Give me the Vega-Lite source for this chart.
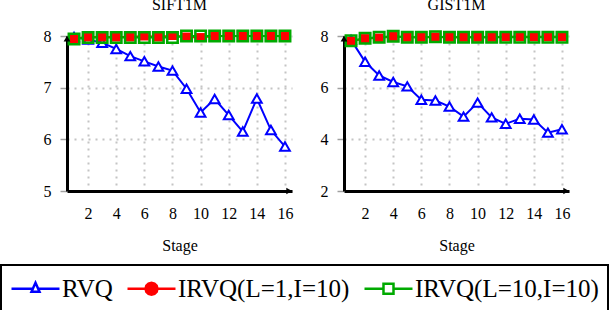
{
  "$schema": "https://vega.github.io/schema/vega-lite/v6.json",
  "padding": {"left": 0, "top": -4, "right": 0, "bottom": 0},
  "background": "white",
  "data": {"values": [
    {"dataset":"SIFT1M","series":"RVQ","stage":1,"value":7.98},
    {"dataset":"SIFT1M","series":"RVQ","stage":2,"value":7.93},
    {"dataset":"SIFT1M","series":"RVQ","stage":3,"value":7.87},
    {"dataset":"SIFT1M","series":"RVQ","stage":4,"value":7.75},
    {"dataset":"SIFT1M","series":"RVQ","stage":5,"value":7.61},
    {"dataset":"SIFT1M","series":"RVQ","stage":6,"value":7.51},
    {"dataset":"SIFT1M","series":"RVQ","stage":7,"value":7.41},
    {"dataset":"SIFT1M","series":"RVQ","stage":8,"value":7.33},
    {"dataset":"SIFT1M","series":"RVQ","stage":9,"value":6.98},
    {"dataset":"SIFT1M","series":"RVQ","stage":10,"value":6.52},
    {"dataset":"SIFT1M","series":"RVQ","stage":11,"value":6.78},
    {"dataset":"SIFT1M","series":"RVQ","stage":12,"value":6.47},
    {"dataset":"SIFT1M","series":"RVQ","stage":13,"value":6.15},
    {"dataset":"SIFT1M","series":"RVQ","stage":14,"value":6.79},
    {"dataset":"SIFT1M","series":"RVQ","stage":15,"value":6.18},
    {"dataset":"SIFT1M","series":"RVQ","stage":16,"value":5.86},
    {"dataset":"SIFT1M","series":"IRVQ(L=1,I=10)","stage":1,"value":7.95},
    {"dataset":"SIFT1M","series":"IRVQ(L=1,I=10)","stage":2,"value":7.98},
    {"dataset":"SIFT1M","series":"IRVQ(L=1,I=10)","stage":3,"value":7.98},
    {"dataset":"SIFT1M","series":"IRVQ(L=1,I=10)","stage":4,"value":7.98},
    {"dataset":"SIFT1M","series":"IRVQ(L=1,I=10)","stage":5,"value":7.98},
    {"dataset":"SIFT1M","series":"IRVQ(L=1,I=10)","stage":6,"value":8.0},
    {"dataset":"SIFT1M","series":"IRVQ(L=1,I=10)","stage":7,"value":7.98},
    {"dataset":"SIFT1M","series":"IRVQ(L=1,I=10)","stage":8,"value":8.01},
    {"dataset":"SIFT1M","series":"IRVQ(L=1,I=10)","stage":9,"value":7.98},
    {"dataset":"SIFT1M","series":"IRVQ(L=1,I=10)","stage":10,"value":7.97},
    {"dataset":"SIFT1M","series":"IRVQ(L=1,I=10)","stage":11,"value":8.0},
    {"dataset":"SIFT1M","series":"IRVQ(L=1,I=10)","stage":12,"value":8.0},
    {"dataset":"SIFT1M","series":"IRVQ(L=1,I=10)","stage":13,"value":8.0},
    {"dataset":"SIFT1M","series":"IRVQ(L=1,I=10)","stage":14,"value":8.0},
    {"dataset":"SIFT1M","series":"IRVQ(L=1,I=10)","stage":15,"value":8.0},
    {"dataset":"SIFT1M","series":"IRVQ(L=1,I=10)","stage":16,"value":8.0},
    {"dataset":"SIFT1M","series":"IRVQ(L=10,I=10)","stage":1,"value":7.94},
    {"dataset":"SIFT1M","series":"IRVQ(L=10,I=10)","stage":2,"value":7.97},
    {"dataset":"SIFT1M","series":"IRVQ(L=10,I=10)","stage":3,"value":7.97},
    {"dataset":"SIFT1M","series":"IRVQ(L=10,I=10)","stage":4,"value":7.97},
    {"dataset":"SIFT1M","series":"IRVQ(L=10,I=10)","stage":5,"value":7.97},
    {"dataset":"SIFT1M","series":"IRVQ(L=10,I=10)","stage":6,"value":7.97},
    {"dataset":"SIFT1M","series":"IRVQ(L=10,I=10)","stage":7,"value":7.97},
    {"dataset":"SIFT1M","series":"IRVQ(L=10,I=10)","stage":8,"value":7.97},
    {"dataset":"SIFT1M","series":"IRVQ(L=10,I=10)","stage":9,"value":8.0},
    {"dataset":"SIFT1M","series":"IRVQ(L=10,I=10)","stage":10,"value":8.0},
    {"dataset":"SIFT1M","series":"IRVQ(L=10,I=10)","stage":11,"value":8.0},
    {"dataset":"SIFT1M","series":"IRVQ(L=10,I=10)","stage":12,"value":8.0},
    {"dataset":"SIFT1M","series":"IRVQ(L=10,I=10)","stage":13,"value":8.0},
    {"dataset":"SIFT1M","series":"IRVQ(L=10,I=10)","stage":14,"value":8.0},
    {"dataset":"SIFT1M","series":"IRVQ(L=10,I=10)","stage":15,"value":8.0},
    {"dataset":"SIFT1M","series":"IRVQ(L=10,I=10)","stage":16,"value":8.0},
    {"dataset":"GIST1M","series":"RVQ","stage":1,"value":7.85},
    {"dataset":"GIST1M","series":"RVQ","stage":2,"value":7.0},
    {"dataset":"GIST1M","series":"RVQ","stage":3,"value":6.47},
    {"dataset":"GIST1M","series":"RVQ","stage":4,"value":6.22},
    {"dataset":"GIST1M","series":"RVQ","stage":5,"value":6.05},
    {"dataset":"GIST1M","series":"RVQ","stage":6,"value":5.53},
    {"dataset":"GIST1M","series":"RVQ","stage":7,"value":5.5},
    {"dataset":"GIST1M","series":"RVQ","stage":8,"value":5.27},
    {"dataset":"GIST1M","series":"RVQ","stage":9,"value":4.88},
    {"dataset":"GIST1M","series":"RVQ","stage":10,"value":5.42},
    {"dataset":"GIST1M","series":"RVQ","stage":11,"value":4.85},
    {"dataset":"GIST1M","series":"RVQ","stage":12,"value":4.6},
    {"dataset":"GIST1M","series":"RVQ","stage":13,"value":4.8},
    {"dataset":"GIST1M","series":"RVQ","stage":14,"value":4.77},
    {"dataset":"GIST1M","series":"RVQ","stage":15,"value":4.26},
    {"dataset":"GIST1M","series":"RVQ","stage":16,"value":4.39},
    {"dataset":"GIST1M","series":"IRVQ(L=1,I=10)","stage":1,"value":7.8},
    {"dataset":"GIST1M","series":"IRVQ(L=1,I=10)","stage":2,"value":7.9},
    {"dataset":"GIST1M","series":"IRVQ(L=1,I=10)","stage":3,"value":7.92},
    {"dataset":"GIST1M","series":"IRVQ(L=1,I=10)","stage":4,"value":7.98},
    {"dataset":"GIST1M","series":"IRVQ(L=1,I=10)","stage":5,"value":7.95},
    {"dataset":"GIST1M","series":"IRVQ(L=1,I=10)","stage":6,"value":7.95},
    {"dataset":"GIST1M","series":"IRVQ(L=1,I=10)","stage":7,"value":7.96},
    {"dataset":"GIST1M","series":"IRVQ(L=1,I=10)","stage":8,"value":7.95},
    {"dataset":"GIST1M","series":"IRVQ(L=1,I=10)","stage":9,"value":7.95},
    {"dataset":"GIST1M","series":"IRVQ(L=1,I=10)","stage":10,"value":7.95},
    {"dataset":"GIST1M","series":"IRVQ(L=1,I=10)","stage":11,"value":7.95},
    {"dataset":"GIST1M","series":"IRVQ(L=1,I=10)","stage":12,"value":7.97},
    {"dataset":"GIST1M","series":"IRVQ(L=1,I=10)","stage":13,"value":7.97},
    {"dataset":"GIST1M","series":"IRVQ(L=1,I=10)","stage":14,"value":7.97},
    {"dataset":"GIST1M","series":"IRVQ(L=1,I=10)","stage":15,"value":7.97},
    {"dataset":"GIST1M","series":"IRVQ(L=1,I=10)","stage":16,"value":7.97},
    {"dataset":"GIST1M","series":"IRVQ(L=10,I=10)","stage":1,"value":7.82},
    {"dataset":"GIST1M","series":"IRVQ(L=10,I=10)","stage":2,"value":7.91},
    {"dataset":"GIST1M","series":"IRVQ(L=10,I=10)","stage":3,"value":7.95},
    {"dataset":"GIST1M","series":"IRVQ(L=10,I=10)","stage":4,"value":7.99},
    {"dataset":"GIST1M","series":"IRVQ(L=10,I=10)","stage":5,"value":7.95},
    {"dataset":"GIST1M","series":"IRVQ(L=10,I=10)","stage":6,"value":7.95},
    {"dataset":"GIST1M","series":"IRVQ(L=10,I=10)","stage":7,"value":7.97},
    {"dataset":"GIST1M","series":"IRVQ(L=10,I=10)","stage":8,"value":7.95},
    {"dataset":"GIST1M","series":"IRVQ(L=10,I=10)","stage":9,"value":7.95},
    {"dataset":"GIST1M","series":"IRVQ(L=10,I=10)","stage":10,"value":7.95},
    {"dataset":"GIST1M","series":"IRVQ(L=10,I=10)","stage":11,"value":7.95},
    {"dataset":"GIST1M","series":"IRVQ(L=10,I=10)","stage":12,"value":7.95},
    {"dataset":"GIST1M","series":"IRVQ(L=10,I=10)","stage":13,"value":7.95},
    {"dataset":"GIST1M","series":"IRVQ(L=10,I=10)","stage":14,"value":7.95},
    {"dataset":"GIST1M","series":"IRVQ(L=10,I=10)","stage":15,"value":7.95},
    {"dataset":"GIST1M","series":"IRVQ(L=10,I=10)","stage":16,"value":7.95}
  ]},
  "spacing": 24,
  "hconcat": [
    {
      "width": 225, "height": 155,
      "title": {"text": "SIFT1M"},
      "transform": [{"filter": "datum.dataset === 'SIFT1M'"}],
      "encoding": {
        "x": {"field": "stage", "type": "quantitative", "scale": {"domain": [0.5, 16.5], "nice": false},
              "axis": {"values": [2,4,6,8,10,12,14,16], "title": "Stage", "labelOverlap": false, "labelSeparation": 0}},
        "y": {"field": "value", "type": "quantitative", "scale": {"domain": [5, 8], "nice": false, "zero": false},
              "axis": {"values": [5,6,7,8], "title": null}}
      },
      "layer": [
        {
          "mark": {"type": "line", "strokeWidth": 2},
          "encoding": {
            "color": {"field": "series", "type": "nominal",
                      "scale": {"domain": ["RVQ", "IRVQ(L=1,I=10)", "IRVQ(L=10,I=10)"], "range": ["#0000ff", "#ff0000", "#00aa00"]},
                      "legend": {
                        "orient": "none", "legendX": -66, "legendY": 229,
                        "encode": {
                          "symbols": {"update": {
                            "shape": {"signal": "datum.value === 'RVQ' ? 'M-1,0H0.64M1.05,0H2.692M0.846,-0.46L1.154,0.23L0.538,0.23Z' : datum.value === 'IRVQ(L=1,I=10)' ? 'M-1,0H2.692M1.306,0L1.244,0.23L1.076,0.398L0.846,0.46L0.616,0.398L0.448,0.23L0.386,0L0.448,-0.23L0.616,-0.398L0.846,-0.46L1.076,-0.398L1.244,-0.23Z' : 'M-1,0H0.461M1.231,0H2.692M0.461,-0.385H1.231V0.385H0.461Z'"},
                            "fill": {"signal": "datum.value === 'IRVQ(L=1,I=10)' ? '#ff0000' : 'white'"},
                            "strokeWidth": {"value": 2.5}
                          }},
                          "legend": {"update": {"strokeWidth": {"value": 2}}}
                        }
                      }}
          }
        },
        {
          "transform": [{"filter": "datum.series === 'RVQ'"}],
          "mark": {"type": "point", "shape": "triangle-up", "size": 95, "filled": true, "fill": "white", "stroke": "#0000ff", "strokeWidth": 2, "opacity": 1}
        },
        {
          "transform": [{"filter": "datum.series === 'IRVQ(L=1,I=10)'"}],
          "mark": {"type": "point", "shape": "square", "size": 81, "filled": true, "fill": "#ff0000", "strokeWidth": 0, "opacity": 1}
        },
        {
          "transform": [{"filter": "datum.series === 'IRVQ(L=10,I=10)'"}],
          "mark": {"type": "point", "shape": "square", "size": 110, "filled": false, "fill": null, "stroke": "#00aa00", "strokeWidth": 2.5, "opacity": 1}
        },
        {
          "transform": [{"filter": "datum.series === 'RVQ' && datum.stage === 16"}],
          "mark": {"type": "point", "shape": "triangle-right", "size": 45, "filled": true, "color": "black", "opacity": 1},
          "encoding": {"x": {"datum": 16.3, "type": "quantitative"}, "y": {"datum": 5, "type": "quantitative"}}
        },
        {
          "transform": [{"filter": "datum.series === 'RVQ' && datum.stage === 16"}],
          "mark": {"type": "point", "shape": "triangle-up", "size": 45, "filled": true, "color": "black", "opacity": 1},
          "encoding": {"x": {"datum": 0.5, "type": "quantitative"}, "y": {"datum": 7.95, "type": "quantitative"}}
        }
      ]
    },
    {
      "width": 225, "height": 155,
      "title": {"text": "GIST1M"},
      "transform": [{"filter": "datum.dataset === 'GIST1M'"}],
      "encoding": {
        "x": {"field": "stage", "type": "quantitative", "scale": {"domain": [0.5, 16.5], "nice": false},
              "axis": {"values": [2,4,6,8,10,12,14,16], "title": "Stage", "labelOverlap": false, "labelSeparation": 0}},
        "y": {"field": "value", "type": "quantitative", "scale": {"domain": [2, 8], "nice": false, "zero": false},
              "axis": {"values": [2,4,6,8], "title": null}}
      },
      "layer": [
        {
          "mark": {"type": "line", "strokeWidth": 2},
          "encoding": {
            "color": {"field": "series", "type": "nominal",
                      "scale": {"domain": ["RVQ", "IRVQ(L=1,I=10)", "IRVQ(L=10,I=10)"], "range": ["#0000ff", "#ff0000", "#00aa00"]}}
          }
        },
        {
          "transform": [{"filter": "datum.series === 'RVQ'"}],
          "mark": {"type": "point", "shape": "triangle-up", "size": 95, "filled": true, "fill": "white", "stroke": "#0000ff", "strokeWidth": 2, "opacity": 1}
        },
        {
          "transform": [{"filter": "datum.series === 'IRVQ(L=1,I=10)'"}],
          "mark": {"type": "point", "shape": "square", "size": 81, "filled": true, "fill": "#ff0000", "strokeWidth": 0, "opacity": 1}
        },
        {
          "transform": [{"filter": "datum.series === 'IRVQ(L=10,I=10)'"}],
          "mark": {"type": "point", "shape": "square", "size": 110, "filled": false, "fill": null, "stroke": "#00aa00", "strokeWidth": 2.5, "opacity": 1}
        },
        {
          "transform": [{"filter": "datum.series === 'RVQ' && datum.stage === 16"}],
          "mark": {"type": "point", "shape": "triangle-right", "size": 45, "filled": true, "color": "black", "opacity": 1},
          "encoding": {"x": {"datum": 16.3, "type": "quantitative"}, "y": {"datum": 2, "type": "quantitative"}}
        },
        {
          "transform": [{"filter": "datum.series === 'RVQ' && datum.stage === 16"}],
          "mark": {"type": "point", "shape": "triangle-up", "size": 45, "filled": true, "color": "black", "opacity": 1},
          "encoding": {"x": {"datum": 0.5, "type": "quantitative"}, "y": {"datum": 7.9, "type": "quantitative"}}
        }
      ]
    }
  ],
  "config": {
    "font": "Liberation Serif",
    "view": {"stroke": null},
    "title": {"font": "Liberation Serif", "fontSize": 16, "fontWeight": "normal", "color": "black", "anchor": "middle", "frame": "group", "offset": 13},
    "axis": {
      "labelFont": "Liberation Serif", "labelFontSize": 16, "labelColor": "black",
      "titleFont": "Liberation Serif", "titleFontSize": 16, "titleFontWeight": "normal", "titleColor": "black",
      "domainColor": "black", "domainWidth": 3, "labelOverlap": false,
      "grid": true, "gridColor": "#c4c4c4", "gridDash": [2, 5], "gridWidth": 2,
      "tickColor": "#a0a0a0", "tickWidth": 1.5
    },
    "axisX": {"ticks": false, "labelPadding": 14, "titlePadding": 16, "labelFlush": false, "labelOverlap": false},
    "axisY": {"tickSize": 7, "labelPadding": 9},
    "legend": {
      "direction": "horizontal", "title": null,
      "labelFont": "Liberation Serif", "labelFontSize": 25, "labelColor": "black",
      "symbolSize": 676, "symbolStrokeWidth": 2.5, "labelOffset": 23, "columnPadding": 9,
      "padding": 9, "strokeColor": "black", "labelLimit": 400
    }
  }
}
